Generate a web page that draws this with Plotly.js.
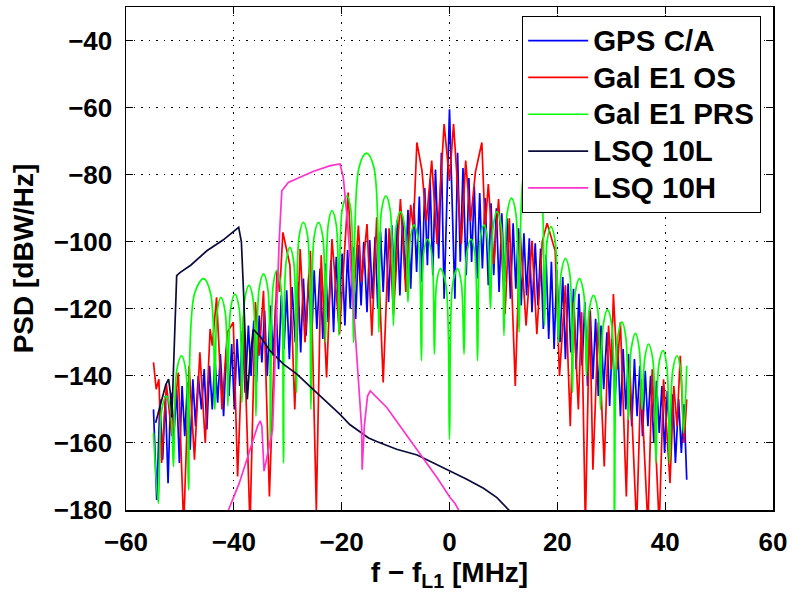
<!DOCTYPE html>
<html><head><meta charset="utf-8">
<script src="https://cdn.plot.ly/plotly-3.0.1.min.js"></script>
<style>html,body{margin:0;padding:0;background:#fff}#chart{width:793px;height:592px}</style>
</head><body><div id="chart"></div>
<script>
// GPS C/A: [frequency offset MHz, PSD dBW/Hz] lobe peaks and nulls
const gpsPts = [
[-54.9,-150],[-54.3,-177],[-53.7,-147],[-53.2,-165],[-52.7,-146],[-52.2,-172],[-51.7,-145],[-51.2,-160],[-50.6,-144],[-50.1,-166],
[-49.6,-143],[-49.1,-158],[-48.6,-142],[-48.1,-162],[-47.6,-141],[-47.1,-155],[-46.6,-140],[-46.0,-150],[-45.5,-138],[-45.0,-156],
[-44.5,-137],[-44.0,-150],[-43.5,-135],[-43.0,-148],[-42.5,-133.5],[-41.9,-152],[-41.4,-132],[-40.9,-146],[-40.4,-130.5],[-39.9,-150],
[-39.4,-129],[-38.9,-143],[-38.4,-126.5],[-37.9,-145],[-37.3,-125],[-36.8,-140],[-36.3,-123.5],[-35.8,-142],[-35.3,-122],[-34.8,-136],
[-34.3,-120.5],[-33.8,-140],[-33.2,-119],[-32.7,-134],[-32.2,-117.5],[-31.7,-138],[-31.2,-116],[-30.7,-132],[-30.2,-114.5],[-29.7,-135],
[-29.2,-113.5],[-28.6,-130],[-28.1,-112],[-27.6,-133],[-27.1,-111],[-26.6,-128],[-26.1,-110],[-25.6,-131],[-25.1,-108.5],[-24.6,-126],
[-24.0,-108],[-23.5,-129],[-23.0,-106.5],[-22.5,-124],[-22.0,-105.5],[-21.5,-127],[-21.0,-104.5],[-20.5,-122],[-19.9,-103.5],[-19.4,-125],
[-18.9,-102.5],[-18.4,-120],[-17.9,-101.5],[-17.4,-123],[-16.9,-101],[-16.4,-119],[-15.9,-100],[-15.3,-121],[-14.8,-99.5],[-14.3,-117],
[-13.8,-98.5],[-13.3,-120],[-12.8,-97],[-12.3,-115],[-11.8,-96],[-11.3,-118],[-10.7,-95],[-10.2,-113],[-9.7,-93.5],[-9.2,-116],
[-8.7,-92.5],[-8.2,-111],[-7.7,-90.5],[-7.2,-114],[-6.6,-88.5],[-6.1,-109],[-5.6,-86.5],[-5.1,-112],[-4.6,-84],[-4.1,-107],
[-3.6,-81.5],[-3.1,-110],[-2.6,-78.5],[-2.0,-105],[-1.5,-73.5],[-1.0,-117],[0,-60.5],
[1.0,-117],[1.5,-73.5],[2.0,-106],[2.5,-78],[3.1,-110],[3.6,-81],[4.1,-106],[4.6,-83.5],[5.1,-111],[5.6,-85.5],
[6.1,-108],[6.6,-87],[7.2,-113],[7.7,-88.5],[8.2,-110],[8.7,-90],[9.2,-115],[9.7,-91.5],[10.2,-112],[10.7,-93],
[11.3,-117],[11.8,-94.5],[12.3,-114],[12.8,-96],[13.3,-119],[13.8,-97.5],[14.3,-116],[14.8,-99],[15.3,-121],[15.9,-100.5],
[16.4,-119],[16.9,-102],[17.4,-126],[17.9,-104],[18.4,-129],[18.9,-106],[19.4,-132],[19.9,-108.5],[20.5,-130],[21.0,-110.5],
[21.5,-135],[22.0,-112.5],[22.5,-133],[23.0,-114],[23.5,-138],[24.0,-115.5],[24.6,-137],[25.1,-118],[25.6,-143],[26.1,-120.5],
[26.6,-141],[27.1,-123],[27.6,-146],[28.1,-125],[28.6,-144],[29.2,-127],[29.7,-149],[30.2,-129],[30.7,-147],[31.2,-130.5],
[31.7,-152],[32.2,-132],[32.7,-150],[33.2,-133.5],[33.8,-155],[34.3,-135],[34.8,-152],[35.3,-137],[35.8,-158],[36.3,-138.5],
[36.8,-155],[37.3,-140],[37.9,-160],[38.4,-141.5],[38.9,-157],[39.4,-143],[39.9,-163],[40.4,-144.5],[40.9,-160],[41.4,-145.5],
[41.9,-166],[42.5,-147],[43.0,-163],[43.5,-148.5],[44.0,-171]
];

// Galileo E1 OS
const galOsPts = [
[-54.9,-136],[-54.4,-144],[-53.9,-141],[-53.4,-166],[-52.5,-142.5],[-51.5,-158],[-50.3,-139],[-49.3,-185],[-48.3,-137],[-47.3,-165],
[-46.3,-133],[-45.3,-160],[-44.4,-126],[-44.0,-131],[-43.2,-116.6],[-42.2,-150],[-41.2,-127],[-40.1,-124],[-39.3,-170],[-38.2,-122],
[-37.0,-185],[-36.0,-118],[-35.3,-134],[-34.5,-114.6],[-33.4,-176],[-32.0,-108.7],[-31.5,-115],[-30.9,-97.2],[-29.6,-107],[-28.7,-150],
[-27.7,-102.2],[-26.8,-130],[-25.8,-102.7],[-24.7,-180],[-23.8,-104],[-22.8,-140.5],[-21.8,-99.2],[-20.4,-127.6],[-18.8,-85.3],[-17.8,-118],
[-16.9,-95.2],[-16.3,-112],[-15.3,-94.7],[-14.4,-128],[-13.5,-92.7],[-12.3,-142],[-11.2,-96],[-10.4,-121.6],[-9.1,-87.3],[-8.1,-115],
[-7.2,-89],[-6.7,-96],[-6.05,-70.4],[-5.1,-78.8],[-4.3,-94],[-3.3,-75.8],[-2.3,-100.7],[-1.0,-64.9],[0.0,-81.8],[0.75,-64.9],
[2.2,-100.7],[3.0,-75.8],[3.9,-94],[4.8,-79.3],[6.0,-70.4],[6.6,-96],[7.2,-82.8],[8.2,-106.7],[9.1,-87.3],[10.3,-121.6],
[11.1,-93],[12.2,-143],[13.1,-97],[14.2,-125],[15.3,-99.7],[16.2,-127.6],[17.2,-100],[18.1,-94.5],[19.6,-102.7],[20.4,-140],
[21.5,-113],[22.4,-155],[23.0,-118],[23.9,-150],[24.5,-121],[25.2,-185],[26.0,-120],[26.6,-168],[27.6,-124],[28.7,-167],
[29.5,-125],[30.0,-138],[30.4,-115.6],[31.1,-138],[31.7,-124],[32.8,-176],[33.4,-135.5],[34.7,-185],[35.5,-141],[36.8,-185],
[37.6,-138],[38.9,-185],[39.7,-141],[40.9,-172],[41.6,-143],[42.2,-155],[42.8,-134],[43.5,-160],[44.0,-147]
];

// Galileo E1 PRS: nulls, lobe shoulders and lobe tops
const galPrsPts = [
[-54.9,-157],[-54.0,-178],
[-53.4,-150.5],[-52.5,-146],[-51.7,-150.5],[-51.2,-167],
[-50.6,-138.5],[-49.7,-134],[-48.9,-138.5],[-48.4,-174],
[-47.3,-115.5],[-45.6,-111],[-44.3,-115.5],[-43.5,-150],
[-43.1,-121],[-42.4,-116.6],[-41.6,-121],[-41.1,-149],
[-40.6,-120],[-39.8,-115.6],[-39.0,-120],[-38.5,-148],
[-38.0,-117.5],[-37.2,-113],[-36.4,-117.5],[-35.9,-152],
[-35.3,-114],[-34.5,-109.6],[-33.7,-114],[-33.2,-160],
[-32.7,-113],[-32.0,-108.5],[-31.3,-113],[-30.8,-166],
[-30.3,-106],[-29.6,-101.7],[-28.9,-106],[-28.4,-145],
[-27.9,-98.5],[-27.1,-94.2],[-26.3,-98.5],[-25.7,-150],
[-25.1,-98.5],[-24.3,-94.2],[-23.5,-98.5],[-23.0,-130],
[-22.5,-95],[-21.8,-90.7],[-21.0,-95],[-20.5,-128],
[-19.9,-90.5],[-19.0,-86.3],[-18.3,-90.5],[-17.8,-130],
[-16.8,-78],[-15.4,-73.6],[-14.0,-78],[-13.1,-127],
[-12.6,-90.5],[-11.8,-86.3],[-11.0,-90.5],[-10.4,-125],
[-9.9,-95.5],[-9.1,-91],[-8.3,-95.5],[-7.7,-118],
[-7.3,-99.5],[-6.6,-95],[-5.8,-99.5],[-5.2,-135.5],
[-4.8,-103.5],[-4.1,-99.2],[-3.3,-103.5],[-2.8,-133.5],
[-2.4,-112.5],[-1.7,-108],[-0.7,-112.5],[0,-159],
[0.6,-112.5],[1.5,-108],[2.2,-112.5],[2.7,-133.5],
[3.2,-103.5],[4.0,-99.2],[4.7,-103.5],[5.2,-135.5],
[5.7,-99.5],[6.4,-95],[7.1,-99.5],[7.6,-120],
[8.1,-95.5],[8.8,-91],[9.6,-95.5],[10.1,-128],
[10.7,-91.5],[11.5,-87],[12.3,-91.5],[12.9,-127],
[13.9,-78],[15.3,-73.5],[16.7,-78],[17.6,-125],
[18.1,-100],[18.8,-95.5],[19.6,-100],[20.2,-130],
[20.7,-109.5],[21.5,-105],[22.3,-109.5],[22.8,-145],
[23.3,-115.5],[24.1,-111],[24.9,-115.5],[25.4,-140],
[25.9,-120.5],[26.7,-116],[27.5,-120.5],[28.0,-150],
[28.5,-125],[29.3,-120.3],[30.1,-125],[30.6,-185],
[31.2,-128.5],[32.0,-124],[32.7,-128.5],[33.2,-153],
[33.7,-132],[34.5,-127.3],[35.2,-132],[35.7,-150],
[36.2,-135],[36.9,-130.5],[37.7,-135],[38.3,-166],
[38.8,-137],[39.6,-132.5],[40.3,-137],[40.8,-166],
[41.4,-138.5],[42.2,-134],[42.9,-138.5],[43.4,-157],
[44.0,-137]
];

// LSQ 10L
const lsqLPts = [
[-54.5,-154],[-53.5,-148],[-52.6,-142.5],[-52.1,-141],[-51.7,-146],[-51.5,-152.4],[-51.0,-125],[-50.6,-110.1],[-50.0,-109.2],[-48.0,-107],
[-45.0,-102.7],[-42.0,-99.5],[-39.1,-95.7],[-38.6,-100],[-38.2,-115],[-37.8,-135],[-37.5,-147],[-37.0,-135],[-36.4,-126.1],[-35.0,-128.5],
[-33.3,-132.5],[-30.8,-136.5],[-28.3,-139.5],[-25.0,-144.5],[-22.1,-148.7],[-20.3,-151.5],[-18.5,-154.5],[-16.6,-156.8],[-15.0,-158.5],[-13.5,-159.6],
[-11.5,-160.8],[-9.8,-161.9],[-6.0,-163.6],[-3.0,-165.9],[0.1,-168.4],[3.2,-170.8],[6.3,-173.5],[8.8,-176.3],[11.0,-180],[11.5,-181]
];

// LSQ 10H
const lsqHPts = [
[-41.0,-180],[-39.0,-172],[-37.0,-162],[-35.6,-155],[-35.1,-153.4],[-34.8,-155],[-34.4,-168.4],[-32.8,-156],[-31.6,-100],[-31.1,-84.8],
[-29.9,-82.3],[-27.5,-80.5],[-25.2,-79],[-22.1,-77.3],[-20.3,-76.8],[-19.7,-80.8],[-19.0,-92.7],[-18.1,-112.6],[-17.2,-132.5],[-16.3,-155.4],
[-16.2,-168],[-15.8,-155],[-15.2,-146],[-14.7,-144.5],[-11.6,-149.5],[-8.5,-156.4],[-5.4,-163.6],[-2.3,-170.4],[0.1,-176.3],[1.0,-178],
[1.7,-180],[2.0,-182]
];

const seriesNames = ['GPS C/A','Gal E1 OS','Gal E1 PRS','LSQ 10L','LSQ 10H'];
const seriesColors = ['#0000ff','#ff0000','#00ff00','#0b0b3b','#ff33cc'];
const xTicks = [-60,-40,-20,0,20,40,60];
const yTicks = [-180,-160,-140,-120,-100,-80,-60,-40];

const allPts = [gpsPts, galOsPts, galPrsPts, lsqLPts, lsqHPts];
const shapes = ['linear','linear','spline','linear','linear'];
const traces = allPts.map((pts,i)=>({
  type:'scatter', mode:'lines',
  name:'<span style="font-size:29.5px">' + seriesNames[i] + '</span>',
  x:pts.map(d=>d[0]), y:pts.map(d=>d[1]),
  line:{color:seriesColors[i], width:1.7, shape:shapes[i], smoothing:1}
}));

const FONT = 'Liberation Sans, Arial, Helvetica, sans-serif';
const axisBase = {
  showline:true, linecolor:'#000', linewidth:1.5, mirror:'ticks',
  ticks:'inside', ticklen:7, tickwidth:1, tickcolor:'#000',
  showgrid:true, gridcolor:'#000', gridwidth:1, griddash:'1.5px,6px',
  zeroline:false,
  tickfont:{family:FONT, size:26, color:'#000', weight:'bold'}
};

const layout = {
  width:793, height:592,
  margin:{l:126, r:20, t:7, b:82},
  paper_bgcolor:'#fff', plot_bgcolor:'#fff',
  showlegend:true,
  font:{family:FONT, color:'#000'},
  xaxis:Object.assign({}, axisBase, {
    range:[-60,60], tickvals:xTicks, ticklabelstandoff:8,
    title:{text:'f \u2212 f<sub>L1</sub> [MHz]', font:{family:FONT, size:28, weight:'bold', color:'#000'}, standoff:4}
  }),
  yaxis:Object.assign({}, axisBase, {
    range:[-180,-30], tickvals:yTicks, ticklabelstandoff:7,
    title:{text:'PSD [dBW/Hz]', font:{family:FONT, size:28, weight:'bold', color:'#000'}, standoff:12}
  }),
  legend:{
    x:0.612, y:0.982, xanchor:'left', yanchor:'top',
    bgcolor:'#fff', bordercolor:'#000', borderwidth:1.2,
    font:{family:FONT, size:26, weight:'bold', color:'#000'},
    itemwidth:60, tracegroupgap:0
  }
};

Plotly.newPlot('chart', traces, layout, {displayModeBar:false, staticPlot:true});
</script>
</body></html>
